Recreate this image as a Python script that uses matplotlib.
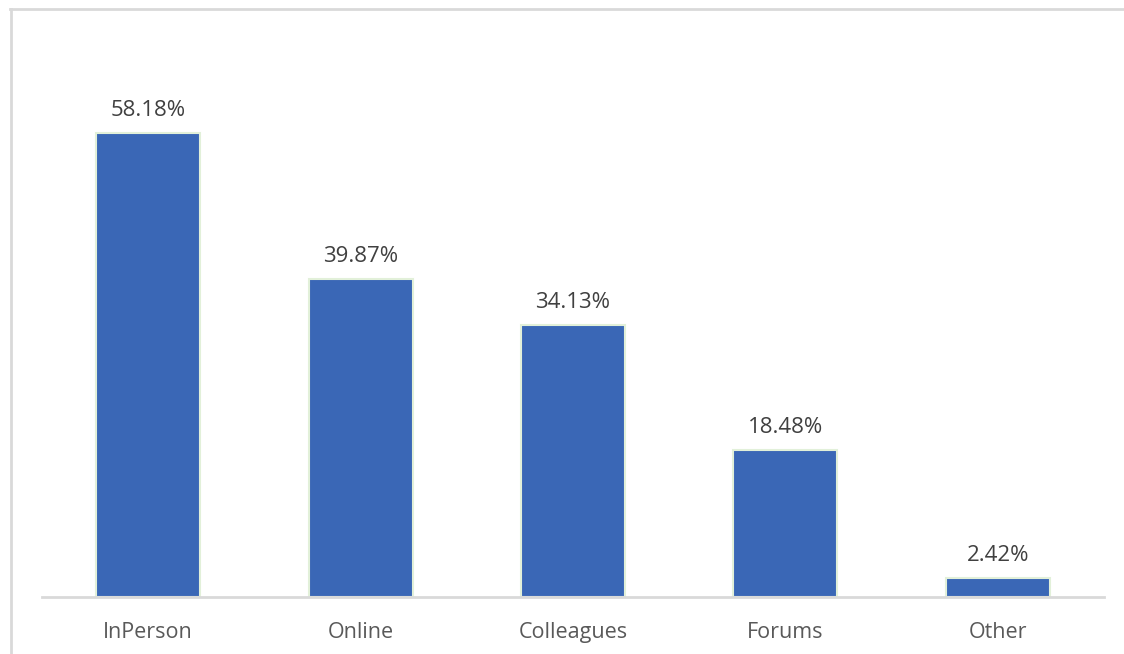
import matplotlib.pyplot as plt
from matplotlib.lines import Line2D

categories = ["InPerson", "Online", "Colleagues", "Forums", "Other"]
values = [58.18, 39.87, 34.13, 18.48, 2.42]

fig = plt.figure(figsize=(11.24, 6.54), dpi=100)
ax = fig.add_axes([0.0374, 0.0872, 0.9448, 0.8532])

x = list(range(len(categories)))
bars = ax.bar(x, values, width=0.49, color="#3A67B6", edgecolor="#E2F0D9", linewidth=1.5)

for xi, v in zip(x, values):
    ax.text(xi, v + 1.5, f"{v:.2f}%", ha="center", va="bottom",
            fontsize=16, color="#404040", family=["Open Sans", "DejaVu Sans"])

ax.set_xlim(-0.5, len(categories) - 0.5)
ax.set_ylim(0, 70)
ax.set_xticks(x)
ax.set_xticklabels(categories, fontsize=15.5, color="#595959", family=["Open Sans", "DejaVu Sans"])
ax.tick_params(axis="x", length=0, pad=18)
ax.set_yticks([])
for side in ["top", "right", "left"]:
    ax.spines[side].set_visible(False)
ax.spines["bottom"].set_color("#D9D9D9")
ax.spines["bottom"].set_linewidth(2)

# outer chart frame (left and top edges visible)
fig.add_artist(Line2D([10.5 / 1124, 10.5 / 1124], [0, 1 - 9 / 654], transform=fig.transFigure,
                      color="#D9D9D9", linewidth=2))
fig.add_artist(Line2D([10 / 1124, 1], [1 - 9 / 654, 1 - 9 / 654], transform=fig.transFigure,
                      color="#D9D9D9", linewidth=2))

plt.savefig("out.png", dpi=100)
